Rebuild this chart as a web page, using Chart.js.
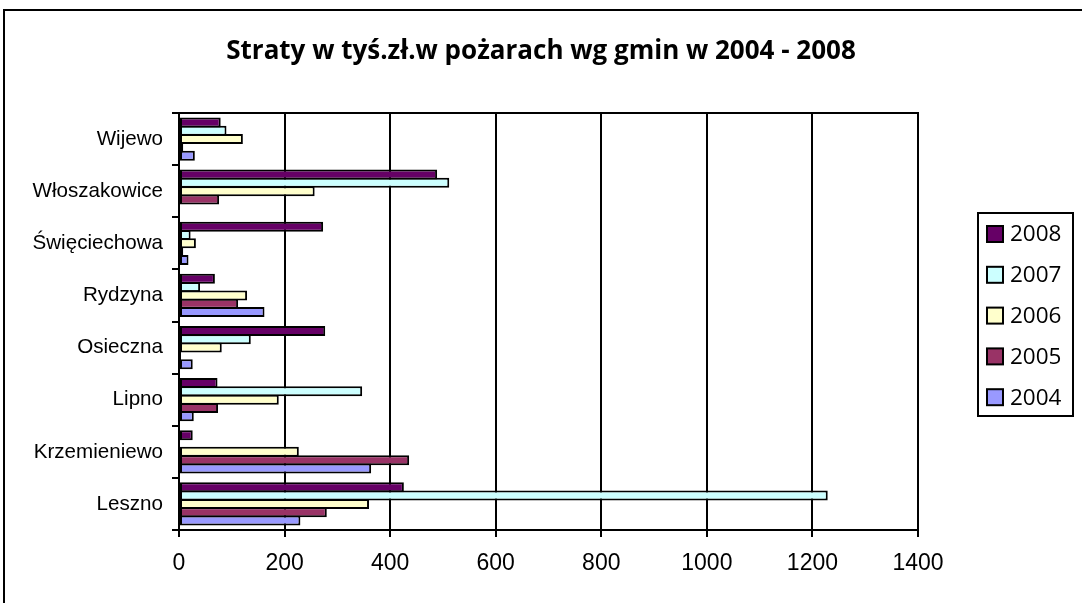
<!DOCTYPE html>
<html>
<head>
<meta charset="utf-8">
<script src="https://cdn.jsdelivr.net/npm/chart.js@4/dist/chart.umd.min.js"></script>
<style>
  body { margin: 0; background: #fff; }
  #wrap { position: relative; width: 1082px; height: 603px; overflow: hidden; }
  #frame { position: absolute; left: 3px; top: 9px; width: 1200px; height: 700px; border: 2px solid #000; }
  canvas { position: absolute; left: 0; top: 0; }
</style>
</head>
<body>
<div id="wrap">
  <div id="frame"></div>
  <canvas id="chart" width="1082" height="603"></canvas>
</div>
<script>
// gminy, top to bottom as in the picture
const gminy = ['Wijewo', 'Włoszakowice', 'Święciechowa', 'Rydzyna', 'Osieczna', 'Lipno', 'Krzemieniewo', 'Leszno'];

// straty w tys. zł
const y2008 = [79, 489, 273, 68, 277, 73, 26, 426];
const y2007 = [90, 512, 22, 40, 136, 347, 0, 1229];
const y2006 = [121, 257, 32, 129, 81, 189, 227, 360];
const y2005 = [8, 76, 8, 112, 4, 74, 436, 280];
const y2004 = [30, 0, 18, 162, 26, 28, 364, 230];

const years = ['2008', '2007', '2006', '2005', '2004'];
const colors = ['#660066', '#CCFFFF', '#FFFFCC', '#993366', '#9999FF'];
const series = [y2008, y2007, y2006, y2005, y2004];

// frame round the plot area
const plotFrame = {
    id: 'plotFrame',
    afterDatasetsDraw(chart) {
        const { ctx, chartArea: a } = chart;
        ctx.save();
        ctx.strokeStyle = '#000';
        ctx.lineWidth = 2;
        ctx.strokeRect(a.left, a.top, a.right - a.left, a.bottom - a.top);
        ctx.restore();
    }
};

// excel-like boxed legend on the right
const boxLegend = {
    id: 'boxLegend',
    afterDraw(chart) {
        const ctx = chart.ctx;
        const x = 978, y = 213, w = 95, h = 203;
        ctx.save();
        ctx.strokeStyle = '#000';
        ctx.lineWidth = 2;
        ctx.strokeRect(x, y, w, h);
        ctx.font = '22.5px "Open Sans"';
        ctx.textBaseline = 'middle';
        chart.data.datasets.forEach((ds, i) => {
            const cy = 234 + i * 40.8;
            ctx.fillStyle = ds.backgroundColor;
            ctx.fillRect(987, cy - 8, 16, 16);
            ctx.strokeRect(987, cy - 8, 16, 16);
            ctx.fillStyle = '#000';
            ctx.fillText(ds.label, 1010, cy + 1);
        });
        ctx.restore();
    }
};

new Chart(document.getElementById('chart'), {
    type: 'bar',
    data: {
        labels: gminy,
        datasets: years.map((yr, i) => ({
            label: yr,
            data: series[i],
            backgroundColor: colors[i],
            borderColor: '#000',
            borderWidth: 2,
            borderSkipped: false,
            barPercentage: 1.2,
            categoryPercentage: 0.8,
            yAxisID: 'y'
        }))
    },
    options: {
        indexAxis: 'y',
        responsive: false,
        animation: false,
        layout: { padding: { top: 10, right: 0, left: 0, bottom: 0 } },
        scales: {
            x: {
                min: 0,
                max: 1400,
                ticks: {
                    stepSize: 200, color: '#000', padding: 13,
                    font: { family: 'Liberation Sans', size: 23 },
                    callback: v => String(v)
                },
                grid: { color: '#000', lineWidth: 2, tickLength: 7 },
                border: { color: '#000', width: 2 },
                afterFit(scale) { scale.height = 73; }
            },
            y: {
                ticks: { color: '#000', padding: 9, font: { family: 'Liberation Sans', size: 20.6 } },
                grid: { drawOnChartArea: false, offset: true, color: '#000', lineWidth: 2, tickLength: 7 },
                border: { color: '#000', width: 2 },
                afterFit(scale) { scale.width = 179; }
            },
            // empty strip on the right that holds the legend
            side: {
                type: 'category',
                position: 'right',
                labels: gminy,
                ticks: { display: false },
                grid: { display: false },
                border: { display: false },
                afterFit(scale) { scale.width = 164; }
            }
        },
        plugins: {
            legend: { display: false },
            tooltip: { enabled: false },
            title: {
                display: true,
                text: 'Straty w tyś.zł.w pożarach wg gmin w 2004 - 2008',
                color: '#000',
                font: { family: 'Open Sans', size: 26, weight: 'bold', lineHeight: 1.2 },
                padding: { top: 26, bottom: 45.8 }
            }
        }
    },
    plugins: [plotFrame, boxLegend]
});
</script>
</body>
</html>
